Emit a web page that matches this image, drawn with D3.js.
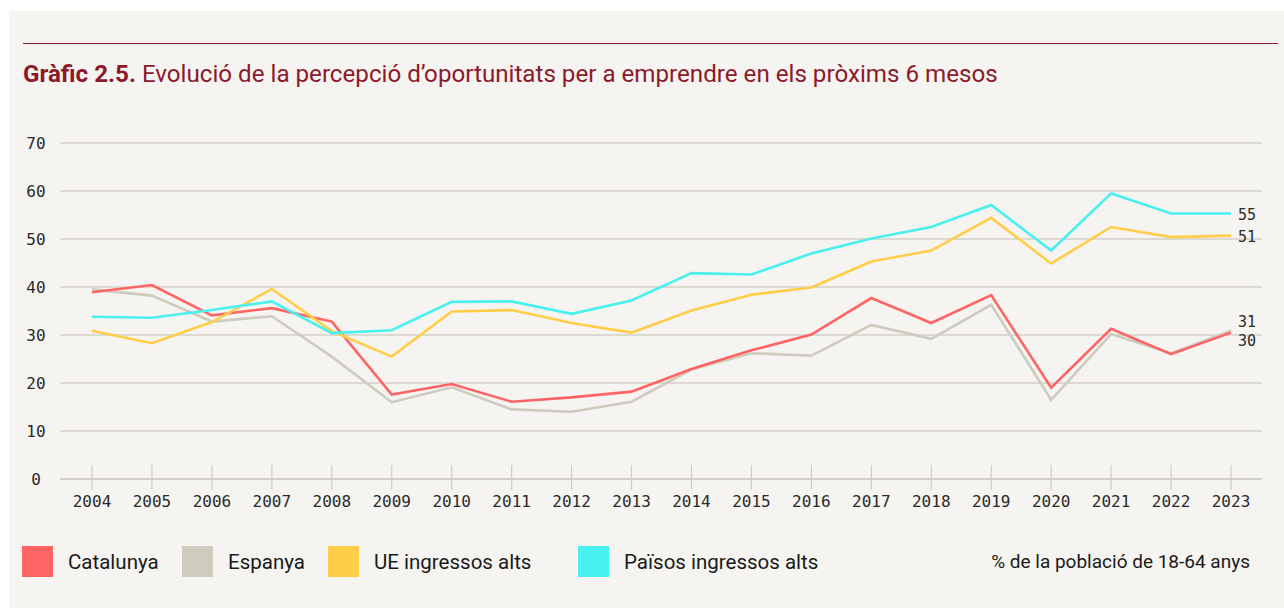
<!DOCTYPE html>
<html>
<head>
<meta charset="utf-8">
<script src="https://cdn.jsdelivr.net/npm/d3@7"></script>
<style>
  body { margin: 0; background: #fff; }
  svg { display: block; }
</style>
</head>
<body>
<div id="chart"></div>
<script>
let WIDTH = 1284
let HEIGHT = 608

// data
let years = d3.range(2004, 2024)
let catalunya = [38.9, 40.4, 34.1, 35.6, 32.8, 17.6, 19.8, 16.1, 17.0, 18.2, 22.9, 26.8, 30.1, 37.7, 32.5, 38.3, 19.0, 31.3, 26.0, 30.5]
let espanya   = [39.5, 38.2, 32.8, 33.9, 25.5, 16.0, 19.1, 14.5, 14.0, 16.1, 22.8, 26.2, 25.7, 32.1, 29.2, 36.3, 16.5, 30.2, 26.2, 30.9]
let ueAlts    = [30.9, 28.3, 32.7, 39.6, 30.8, 25.5, 34.9, 35.2, 32.5, 30.5, 35.1, 38.4, 39.9, 45.3, 47.6, 54.4, 44.9, 52.5, 50.4, 50.7]
let paisosAlts = [33.8, 33.6, 35.2, 37.0, 30.4, 31.0, 36.9, 37.0, 34.4, 37.2, 42.9, 42.6, 47.0, 50.1, 52.5, 57.1, 47.6, 59.5, 55.3, 55.3]
let yTicks = [0, 10, 20, 30, 40, 50, 60, 70]
let seriesNames = ['Catalunya', 'Espanya', 'UE ingressos alts', 'Països ingressos alts']
let endLabels = ['30', '31', '51', '55']

let colors = ['#ff6464', '#cecbbf', '#ffcd48', '#48f0f0']
let seriesValues = [catalunya, espanya, ueAlts, paisosAlts]
let series = seriesNames.map((name, i) => ({ name: name, color: colors[i], values: seriesValues[i] }))

let svg = d3.select('#chart')
    .append('svg')
    .attr('width', WIDTH)
    .attr('height', HEIGHT)

// panel
svg.append('rect')
    .attr('x', 9).attr('y', 11)
    .attr('width', WIDTH - 9).attr('height', HEIGHT - 11)
    .attr('fill', '#f5f4f0')

svg.append('line')
    .attr('x1', 23).attr('x2', 1278)
    .attr('y1', 43.5).attr('y2', 43.5)
    .attr('stroke', '#8c1a2b')
    .attr('stroke-width', 1.2)

let sans = 'Roboto, "Noto Sans", sans-serif'
let mono = '"DejaVu Sans Mono", "Liberation Mono", monospace'

// title, fitted to the widths seen in the reference
let title = svg.append('text')
    .attr('x', 23).attr('y', 82)
    .attr('fill', '#8c1a2b')
    .style('font-family', sans)
    .style('font-size', '21px')
title.append('tspan').attr('font-weight', 700).text('Gràfic 2.5.')
title.append('tspan').text(' Evolució de la percepció d’oportunitats per a emprendre en els pròxims 6 mesos')
let tw = title.node().getComputedTextLength()
title.style('font-size', (21 * 975 / tw) + 'px')

let x = d3.scaleLinear()
    .domain([2004, 2023])
    .range([92, 1231])

let y = d3.scaleLinear()
    .domain([0, 70])
    .range([479, 143])

// grid
svg.append('g')
    .selectAll('line')
    .data(yTicks)
    .join('line')
    .attr('x1', 60).attr('x2', 1262)
    .attr('y1', d => y(d)).attr('y2', d => y(d))
    .attr('stroke', d => d === 0 ? '#c6c3b8' : '#d3d0c8')
    .attr('stroke-width', 1.5)

svg.append('g')
    .selectAll('text')
    .data(yTicks)
    .join('text')
    .attr('x', 36)
    .attr('y', d => y(d) + 5.5)
    .attr('text-anchor', 'middle')
    .attr('fill', '#2a2a2a')
    .style('font-family', mono)
    .style('font-size', '16px')
    .text(d => d)

// x axis ticks and labels
let xAxis = svg.append('g')
xAxis.selectAll('line')
    .data(years)
    .join('line')
    .attr('x1', d => x(d)).attr('x2', d => x(d))
    .attr('y1', 465).attr('y2', 490)
    .attr('stroke', '#cfccc3')
    .attr('stroke-width', 1.2)
xAxis.selectAll('text')
    .data(years)
    .join('text')
    .attr('x', d => x(d))
    .attr('y', 507)
    .attr('text-anchor', 'middle')
    .attr('fill', '#2a2a2a')
    .style('font-family', mono)
    .style('font-size', '16px')
    .text(d => d)

// lines, drawn back to front: Espanya under Catalunya
let line = d3.line()
    .x((d, i) => x(years[i]))
    .y(d => y(d))

let drawOrder = [1, 0, 2, 3]
svg.append('g')
    .selectAll('path')
    .data(drawOrder.map(i => series[i]))
    .join('path')
    .attr('d', d => line(d.values))
    .attr('fill', 'none')
    .attr('stroke', d => d.color)
    .attr('stroke-width', 2.6)
    .attr('stroke-linejoin', 'miter')

// end labels
let endOffsets = [8.5, -8.5, 1, 1]
svg.append('g')
    .selectAll('text')
    .data(series)
    .join('text')
    .attr('x', x(2023) + 7)
    .attr('y', (d, i) => y(d.values[d.values.length - 1]) + endOffsets[i] + 5)
    .attr('fill', '#2a2a2a')
    .style('font-family', mono)
    .style('font-size', '15px')
    .text((d, i) => endLabels[i])

// legend
let legendX = [22, 182, 328, 578]
let legend = svg.append('g')
    .selectAll('g')
    .data(series)
    .join('g')
    .attr('transform', (d, i) => `translate(${legendX[i]},546)`)
legend.append('rect')
    .attr('width', 31).attr('height', 31)
    .attr('fill', d => d.color)
legend.append('text')
    .attr('x', 46).attr('y', 23)
    .attr('fill', '#1a1a1a')
    .style('font-family', sans)
    .style('font-size', '20.5px')
    .text(d => d.name)

svg.append('text')
    .attr('x', 1250).attr('y', 568)
    .attr('text-anchor', 'end')
    .attr('fill', '#1a1a1a')
    .style('font-family', sans)
    .style('font-size', '19px')
    .text('% de la població de 18-64 anys')
</script>
</body>
</html>
